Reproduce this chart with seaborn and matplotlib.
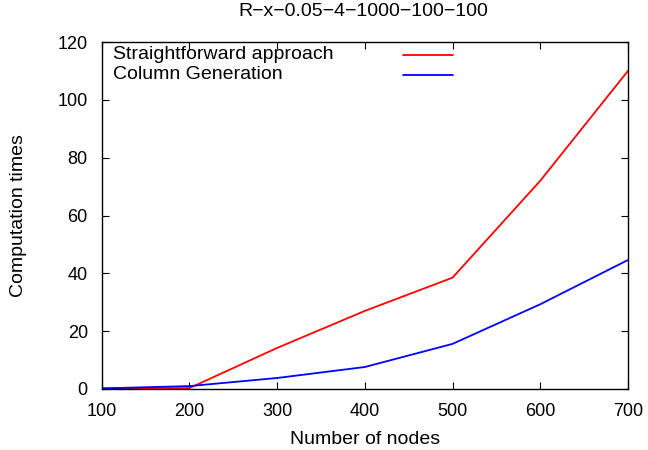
import matplotlib
matplotlib.use('Agg')
import matplotlib.pyplot as plt
import seaborn as sns
import pandas as pd

# --- Dati ---
nodes = [100, 200, 300, 400, 500, 600, 700]
straightforward = [0.2, 0.3, 14.2, 27.0, 38.5, 72.0, 110.0]
column_gen = [0.2, 1.0, 3.8, 7.6, 15.6, 29.3, 44.6]
series_names = ['Straightforward approach', 'Column Generation']
colors = ['#ff0000', '#0000ff']

df = pd.DataFrame({
    'nodes': nodes * 2,
    'time': straightforward + column_gen,
    'method': [series_names[0]] * len(nodes) + [series_names[1]] * len(nodes),
})

# --- Stile ---
sns.set_style('ticks')
plt.rcParams['font.family'] = ['Liberation Sans', 'DejaVu Sans']
plt.rcParams.update({
    'xtick.direction': 'in',
    'ytick.direction': 'in',
    'xtick.top': True,
    'ytick.right': True,
    'font.size': 14,
    'text.color': 'black',
    'axes.labelcolor': 'black',
    'xtick.color': 'black',
    'ytick.color': 'black',
})

fig = plt.figure(figsize=(6.48, 4.5), dpi=100)
ax = fig.add_axes([0.157, 0.1356, 0.812, 0.771])

sns.lineplot(data=df, x='nodes', y='time', hue='method',
             palette=dict(zip(series_names, colors)), linewidth=1.3,
             legend=False, ax=ax)

ax.set_xlim(100, 700)
ax.set_ylim(0, 120)
ax.set_xticks(nodes)
ax.set_yticks(range(0, 121, 20))
ax.set_xlabel('Number of nodes', fontsize=14, labelpad=8)
ax.set_ylabel('Computation times', fontsize=14, labelpad=22)
for sp in ax.spines.values():
    sp.set_linewidth(1.0)
    sp.set_color('black')
ax.tick_params(length=5, width=0.8, labelsize=13)
ax.tick_params(axis='x', pad=10)
ax.tick_params(axis='y', pad=10)

# Legenda stile gnuplot: testo a sinistra, campione di linea a destra
for i, (name, col) in enumerate(zip(series_names, colors)):
    y = 0.963 - i * 0.058
    ax.text(0.021, y, name, transform=ax.transAxes, ha='left', va='center',
            fontsize=14)
    ax.plot([0.572, 0.667], [y, y], transform=ax.transAxes, color=col,
            linewidth=1.3)

fig.text(0.561, 0.974, 'R\u2212x\u22120.05\u22124\u22121000\u2212100\u2212100',
         ha='center', va='center', fontsize=14)

fig.savefig('out.png', dpi=100)
